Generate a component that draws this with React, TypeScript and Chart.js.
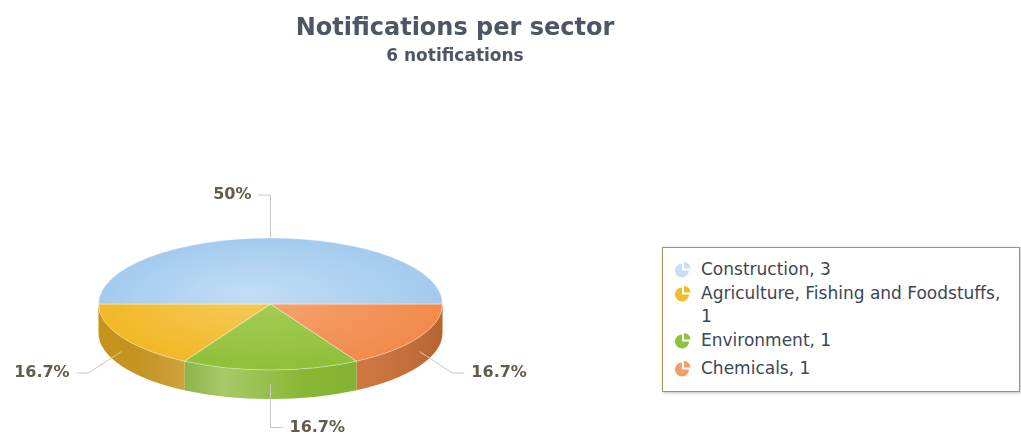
import React, { useEffect, useRef } from "react";
import { Chart, registerables } from "chart.js";

Chart.register(...registerables);

// ---------- data ----------
const sectors = ["Construction", "Agriculture, Fishing and Foodstuffs", "Environment", "Chemicals"];
const notificationCounts = [3, 1, 1, 1];
const topColors = ["#a3cbee", "#f1b826", "#8ec03a", "#f28a4c"];
const topHighlights = ["#c2ddf5", "#f7ca5e", "#a6d057", "#f6a676"];
const sideColors = ["#8fb6d9", "#d9a01c", "#82b42a", "#d4743a"];
const iconColors = ["#c6dff5", "#f2bb2a", "#8cc43c", "#f69c67"];

const chartTitle = "Notifications per sector";
const total = notificationCounts.reduce((a, b) => a + b, 0);
const chartSubtitle = `${total} notifications`;

// slices are drawn clockwise from the right, so the data is fed in reverse order
const drawOrder = sectors.map((_, i) => sectors.length - 1 - i);

// ---------- 3D look (styles) ----------
const PIE_CY = 304;
const RY = 66;
const DEPTH = 29;
const FONT = '"DejaVu Sans", Verdana, sans-serif';

function pct(v: number) {
  return `${Number(((v / total) * 100).toFixed(1))}%`;
}

function frontRanges(s: number, e: number): [number, number][] {
  const TAU = Math.PI * 2;
  const a = ((s % TAU) + TAU) % TAU;
  const b = a + (e - s);
  const out: [number, number][] = [];
  for (const off of [0, TAU]) {
    const lo = Math.max(a, off);
    const hi = Math.min(b, off + Math.PI);
    if (hi > lo) out.push([lo, hi]);
  }
  return out;
}

const pie3d = {
  id: "pie3d",
  beforeDatasetsDraw(chart: any) {
    const meta = chart.getDatasetMeta(0);
    const arcs = meta.data;
    const ctx = chart.ctx;
    ctx.save();
    if (!arcs.length) return;
    const p0 = arcs[0].getProps(["x", "y", "outerRadius"], true);
    const cx = p0.x;
    const rx = p0.outerRadius;
    arcs.forEach((arc: any, j: number) => {
      const idx = drawOrder[j];
      const { startAngle, endAngle } = arc.getProps(["startAngle", "endAngle"], true);
      for (const [a, b] of frontRanges(startAngle, endAngle)) {
        ctx.beginPath();
        ctx.ellipse(cx, PIE_CY, rx, RY, 0, a, b, false);
        ctx.ellipse(cx, PIE_CY + DEPTH, rx, RY, 0, b, a, true);
        ctx.closePath();
        ctx.fillStyle = sideColors[idx];
        ctx.fill();
        const g = ctx.createLinearGradient(cx - rx, 0, cx + rx, 0);
        g.addColorStop(0, "rgba(0,0,0,0.08)");
        g.addColorStop(0.36, "rgba(255,255,255,0.30)");
        g.addColorStop(0.6, "rgba(255,255,255,0.04)");
        g.addColorStop(1, "rgba(0,0,0,0.14)");
        ctx.fillStyle = g;
        ctx.fill();
      }
    });
    const k = RY / rx;
    ctx.translate(cx, PIE_CY);
    ctx.scale(1, k);
    ctx.translate(-cx, -p0.y);
  },
  afterDatasetsDraw(chart: any) {
    const ctx = chart.ctx;
    ctx.restore();
    const meta = chart.getDatasetMeta(0);
    const arcs = meta.data;
    if (!arcs.length) return;
    const p0 = arcs[0].getProps(["x", "outerRadius"], true);
    const cx = p0.x;
    const rx = p0.outerRadius;
    ctx.save();
    ctx.font = `bold 16px ${FONT}`;
    ctx.textBaseline = "middle";
    arcs.forEach((arc: any, j: number) => {
      const idx = drawOrder[j];
      const { startAngle, endAngle } = arc.getProps(["startAngle", "endAngle"], true);
      const t = (startAngle + endAngle) / 2;
      const c = Math.cos(t);
      const s = Math.sin(t);
      const drop = s > 0.01 ? DEPTH / 2 : 0;
      const ax = cx + rx * c;
      const ay = PIE_CY + RY * s + drop;
      const bx = cx + (rx + 38) * c;
      const by = PIE_CY + (RY + 43) * s + drop;
      const dir = c < -1e-6 ? -1 : c > 1e-6 ? 1 : s < 0 ? -1 : 1;
      const ex = bx + dir * 12;
      ctx.beginPath();
      ctx.moveTo(ax, ay);
      ctx.lineTo(bx, by);
      ctx.lineTo(ex, by);
      ctx.strokeStyle = "#c8c8c2";
      ctx.lineWidth = 1;
      ctx.stroke();
      ctx.fillStyle = "#625c48";
      ctx.textAlign = dir < 0 ? "right" : "left";
      ctx.fillText(pct(notificationCounts[idx]), ex + dir * 7, by);
    });
    ctx.restore();
  },
};

function PieIcon({ color }: { color: string }) {
  return (
    <svg width="18" height="17" viewBox="0 0 18 17" style={{ display: "block" }}>
      <path d="M8,9.5 L8,2.5 A7,7 0 1,0 15,9.5 Z" fill={color} />
      <path d="M10,7.5 L10,1 A6.5,6.5 0 0,1 16.5,7.5 Z" fill={color} />
    </svg>
  );
}

export default function App() {
  const canvasRef = useRef<HTMLCanvasElement | null>(null);

  useEffect(() => {
    const canvas = canvasRef.current;
    if (!canvas) return;
    const chart = new Chart(canvas, {
      type: "pie",
      data: {
        labels: drawOrder.map((i) => sectors[i]),
        datasets: [
          {
            data: drawOrder.map((i) => notificationCounts[i]),
            backgroundColor: (c: any) => {
              const i = drawOrder[c.dataIndex];
              const area = c.chart.chartArea;
              if (!area) return topColors[i];
              const x = (area.left + area.right) / 2;
              const y = (area.top + area.bottom) / 2;
              const r = Math.min(area.right - area.left, area.bottom - area.top) / 2;
              const g = c.chart.ctx.createRadialGradient(x - 25, y - 30, 0, x, y, r);
              g.addColorStop(0, topHighlights[i]);
              g.addColorStop(1, topColors[i]);
              return g;
            },
            borderColor: "rgba(255,255,255,0.55)",
            borderWidth: 1,
          },
        ],
      },
      options: {
        responsive: false,
        animation: false,
        events: [],
        rotation: 90,
        layout: { padding: { left: 98, right: 117, top: 45, bottom: 45 } },
        plugins: {
          legend: { display: false },
          title: { display: false },
          tooltip: { enabled: false },
        },
      },
      plugins: [pie3d],
    });
    return () => chart.destroy();
  }, []);

  return (
    <div
      style={{
        position: "fixed",
        left: 0,
        top: 0,
        width: 1021,
        height: 435,
        background: "#ffffff",
        overflow: "hidden",
        fontFamily: FONT,
      }}
    >
      <canvas
        ref={canvasRef}
        width={560}
        height={435}
        style={{ position: "absolute", left: 0, top: 0, width: 560, height: 435 }}
      />
      <div
        style={{
          position: "absolute",
          left: 0,
          top: 13,
          width: 910,
          textAlign: "center",
          font: `bold 24px ${FONT}`,
          lineHeight: "28px",
          color: "#4d5664",
        }}
      >
        {chartTitle}
      </div>
      <div
        style={{
          position: "absolute",
          left: 0,
          top: 45,
          width: 910,
          textAlign: "center",
          font: `bold 17px ${FONT}`,
          lineHeight: "20px",
          color: "#4d5664",
        }}
      >
        {chartSubtitle}
      </div>
      <div
        style={{
          position: "absolute",
          left: 662,
          top: 247,
          width: 358,
          height: 145,
          boxSizing: "border-box",
          border: "1px solid #a3955f",
          background: "#ffffff",
          boxShadow: "1px 1px 3px rgba(0,0,0,0.25)",
          paddingTop: 10,
        }}
      >
        {sectors.map((name, i) => (
          <div
            key={name}
            style={{
              position: "relative",
              paddingLeft: 38,
              marginBottom: i === 2 ? 5 : 1,
              font: `17px ${FONT}`,
              lineHeight: "23px",
              color: "#3d4655",
            }}
          >
            <div style={{ position: "absolute", left: 11, top: 3 }}>
              <PieIcon color={iconColors[i]} />
            </div>
            <div style={{ width: 310 }}>{`${name}, ${notificationCounts[i]}`}</div>
          </div>
        ))}
      </div>
    </div>
  );
}
